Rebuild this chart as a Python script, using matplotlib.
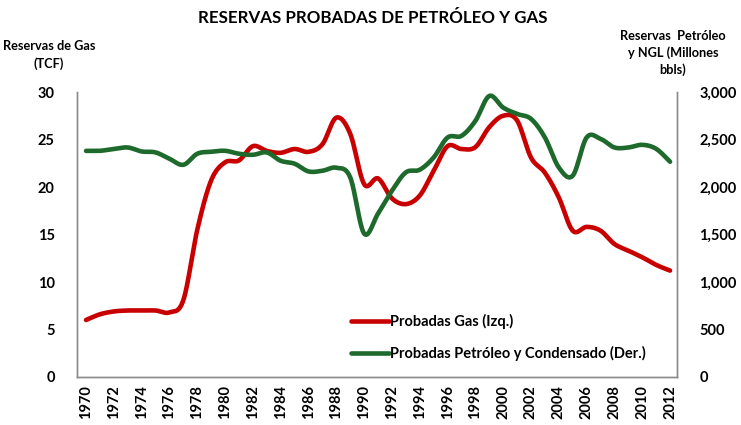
import numpy as np
import matplotlib
matplotlib.use("Agg")
import matplotlib.pyplot as plt

plt.rcParams['font.family'] = ['Lato', 'DejaVu Sans']

years = list(range(1970, 2013))
gas_tcf = [6.0, 6.6, 6.9, 7.0, 7.0, 7.0, 6.8, 8.1, 15.5, 20.7, 22.6, 22.8, 24.3, 23.8, 23.6, 24.0,
           23.7, 24.5, 27.3, 25.6, 20.3, 20.9, 18.8, 18.2, 19.1, 21.7, 24.3, 24.0, 24.2, 26.3,
           27.5, 27.0, 23.1, 21.5, 18.9, 15.4, 15.8, 15.4, 14.0, 13.3, 12.6, 11.8, 11.2]
oil_mmbbl = [2380, 2381, 2400, 2416, 2374, 2364, 2297, 2234, 2350, 2371, 2381, 2350, 2339, 2364,
             2276, 2245, 2164, 2171, 2203, 2101, 1510, 1720, 1961, 2154, 2182, 2311, 2521, 2538,
             2696, 2958, 2836, 2769, 2717, 2521, 2206, 2119, 2521, 2507, 2416, 2416, 2444, 2402,
             2266]
left_ticks = [0, 5, 10, 15, 20, 25, 30]
right_ticks = [0, 500, 1000, 1500, 2000, 2500, 3000]
xtick_years = list(range(1970, 2013, 2))

title = "RESERVAS PROBADAS DE PETRÓLEO Y GAS"
left_label = "Reservas de Gas\n(TCF)"
right_label = "Reservas  Petróleo\ny NGL (Millones\nbbls)"
gas_name = "Probadas Gas (Izq.)"
oil_name = "Probadas Petróleo y Condensado (Der.)"

RED = "#C80000"
GREEN = "#1D6A2C"


def smooth(x, y, n=20):
    # Excel-style smoothed line (Catmull-Rom / cubic Bezier) drawn through the data points
    x = np.asarray(x, float)
    y = np.asarray(y, float)
    P = np.column_stack([x, y])
    P = np.vstack([P[0], P, P[-1]])
    out = []
    t = np.linspace(0, 1, n, endpoint=False)
    for i in range(1, len(P) - 2):
        p0, p1, p2, p3 = P[i - 1], P[i], P[i + 1], P[i + 2]
        c1 = p1 + (p2 - p0) / 6.0
        c2 = p2 - (p3 - p1) / 6.0
        seg = ((1 - t) ** 3)[:, None] * p1 + (3 * (1 - t) ** 2 * t)[:, None] * c1 + \
              (3 * (1 - t) * t ** 2)[:, None] * c2 + (t ** 3)[:, None] * p2
        out.append(seg)
    out.append(P[-2][None, :])
    out = np.vstack(out)
    return out[:, 0], out[:, 1]


fig = plt.figure(figsize=(7.41, 4.25), dpi=100)
ax = fig.add_axes([77 / 741, 48 / 425, 600 / 741, 285 / 425])
ax2 = ax.twinx()

gx, gy = smooth(years, gas_tcf)
ox, oy = smooth(years, oil_mmbbl)
l1, = ax.plot(gx, gy, color=RED, lw=3.3, solid_capstyle='round', label=gas_name, zorder=3)
l2, = ax2.plot(ox, oy, color=GREEN, lw=3.3, solid_capstyle='round', label=oil_name, zorder=3)

ax.set_xlim(1969.35, 2012.5)
ax.set_ylim(0, 30)
ax2.set_ylim(0, 3000)
ax.set_yticks(left_ticks)
ax2.set_yticks(right_ticks)
ax2.set_yticklabels([f"{v:,}" for v in right_ticks])
ax.set_xticks(xtick_years)
ax.set_xticklabels([str(y) for y in xtick_years], rotation=90)

for a in (ax, ax2):
    for s in a.spines.values():
        s.set_color("#8C8C8C")
        s.set_linewidth(1.0)
    a.spines['top'].set_visible(False)
    a.tick_params(length=0, labelsize=10.5, colors="black")
    for lab in a.get_yticklabels() + a.get_xticklabels():
        lab.set_fontweight('bold')
ax.tick_params(axis='y', pad=16)
ax2.tick_params(axis='y', pad=16)
ax.tick_params(axis='x', pad=6)

fig.text(373 / 741, 1 - 18 / 425, title, ha='center', va='center', fontsize=12.2, fontweight='bold')
fig.text(49 / 741, 1 - 55 / 425, left_label, ha='center', va='center', fontsize=9.2,
         fontweight='bold', linespacing=1.55)
fig.text(673 / 741, 1 - 53 / 425, right_label, ha='center', va='center', fontsize=9.2,
         fontweight='bold', linespacing=1.45, multialignment='center')

leg = ax.legend([l1, l2], [gas_name, oil_name], loc='lower left',
                bbox_to_anchor=(261 / 600, 0.009), frameon=False, fontsize=10.5,
                handlelength=2.6, handletextpad=0.1, labelspacing=1.2)
for t in leg.get_texts():
    t.set_fontweight('bold')

fig.savefig("out.png", dpi=100)
